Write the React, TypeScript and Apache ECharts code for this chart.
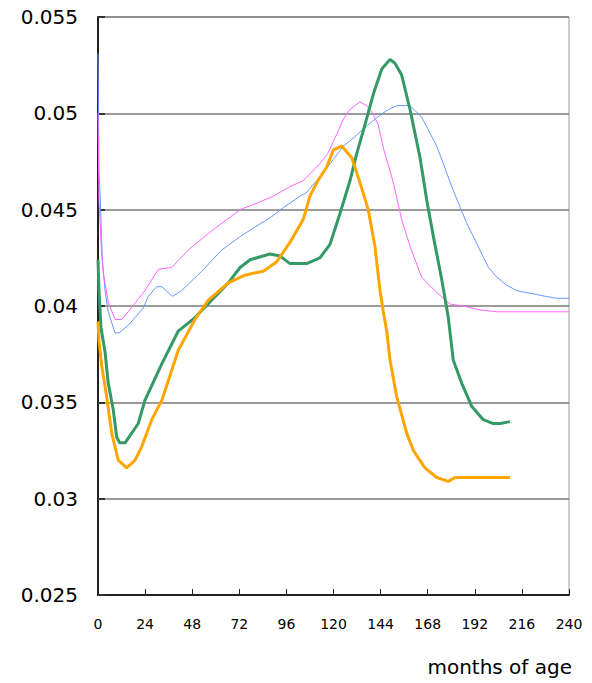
import React, { useEffect, useRef } from "react";
import * as echarts from "echarts";

const xTicks = [0, 24, 48, 72, 96, 120, 144, 168, 192, 216, 240];
const yTicks = [0.025, 0.03, 0.035, 0.04, 0.045, 0.05, 0.055];
const xAxisTitle = "months of age";

const blueMonths = [0, 0.5, 1.2, 2.2, 3.6, 5.2, 8.7, 10.7, 15.4, 23.1, 25.6, 29.9, 32.5, 37.9, 42.6, 52.8, 63, 72.4, 80, 88, 94.4, 102.9, 106.3, 113, 119.9, 125, 130, 135.2, 140, 143.7, 148, 152.2, 159, 164.9, 168, 172.6, 177, 181, 187.9, 194.6, 199, 203.2, 208, 213.3, 218, 223.5, 228, 233.7, 240];
const blueValues = [0.0531, 0.047, 0.0455, 0.0424, 0.0408, 0.0397, 0.0386, 0.0386, 0.039, 0.0399, 0.0405, 0.041, 0.041, 0.0405, 0.0408, 0.0418, 0.0429, 0.0436, 0.0441, 0.0446, 0.0451, 0.0457, 0.0459, 0.0467, 0.0476, 0.0483, 0.0487, 0.0492, 0.0496, 0.0499, 0.0502, 0.0504, 0.0504, 0.0498, 0.0492, 0.0483, 0.0471, 0.046, 0.0443, 0.0429, 0.042, 0.0415, 0.0411, 0.0408, 0.0407, 0.0406, 0.0405, 0.0404, 0.0404];

const pinkMonths = [0, 0.5, 1.8, 2.7, 5.2, 6, 8.7, 12, 15.4, 23.9, 30.7, 37.5, 45.9, 57.9, 72.4, 80, 89.3, 97.8, 104.6, 113.1, 117, 121.6, 125, 128.4, 133.5, 136.9, 140, 142.8, 145.4, 150.5, 154.7, 159, 164.9, 172.6, 179.4, 186.1, 194.6, 203.2, 240];
const pinkValues = [0.05, 0.0455, 0.0428, 0.0417, 0.0402, 0.04, 0.0393, 0.0393, 0.0397, 0.0408, 0.0419, 0.042, 0.0429, 0.0439, 0.045, 0.0453, 0.0457, 0.0462, 0.0465, 0.0474, 0.0479, 0.0489, 0.0497, 0.0502, 0.0506, 0.0504, 0.05, 0.0494, 0.0482, 0.0464, 0.0445, 0.0431, 0.0415, 0.0407, 0.0401, 0.04, 0.0398, 0.0397, 0.0397];

const greenMonths = [0, 0.5, 1.5, 3.6, 5.2, 7.8, 9.5, 11, 13.8, 20.5, 23.9, 32.5, 40.9, 49.4, 57.9, 66.4, 72.4, 77.5, 87.6, 92.7, 97.8, 106.3, 113.1, 118.2, 123.3, 128.4, 131.8, 135.2, 140.3, 144.6, 148.8, 151.3, 154.7, 159, 164.1, 167.5, 170.9, 175.1, 178.5, 181, 185.3, 190.4, 196.3, 201.4, 205, 209.9];
const greenValues = [0.0424, 0.0408, 0.0389, 0.0376, 0.036, 0.0346, 0.0332, 0.0329, 0.0329, 0.0339, 0.0351, 0.037, 0.0387, 0.0394, 0.0403, 0.0412, 0.042, 0.0424, 0.0427, 0.0426, 0.0422, 0.0422, 0.0425, 0.0432, 0.0448, 0.0465, 0.0479, 0.0491, 0.051, 0.0523, 0.0528, 0.0526, 0.052, 0.0502, 0.0477, 0.0455, 0.0436, 0.0414, 0.0394, 0.0372, 0.036, 0.0348, 0.0341, 0.0339, 0.0339, 0.034];

const orangeMonths = [0, 0.5, 1.9, 4.4, 7, 10.3, 14.6, 18.9, 22.3, 27.4, 32.5, 40.9, 49.4, 56.2, 66.4, 74.9, 79.1, 84.2, 91.1, 97.8, 104.6, 108, 112, 116.5, 119.9, 124.2, 129.3, 133.5, 137.7, 141.1, 143.7, 145.4, 147.1, 148.8, 152.2, 157.3, 160.7, 166.6, 172.6, 178.5, 181.9, 209.9];
const orangeValues = [0.0392, 0.0382, 0.0369, 0.0353, 0.0334, 0.032, 0.0316, 0.032, 0.0327, 0.0341, 0.0351, 0.0377, 0.0393, 0.0403, 0.0412, 0.0416, 0.0417, 0.0418, 0.0423, 0.0433, 0.0445, 0.0457, 0.0465, 0.0472, 0.0481, 0.0483, 0.0477, 0.0464, 0.045, 0.0431, 0.0408, 0.0397, 0.0387, 0.0372, 0.0353, 0.0334, 0.0325, 0.0316, 0.0311, 0.0309, 0.0311, 0.0311];

const zip = (xs: number[], ys: number[]) => xs.map((x, i) => [x, ys[i]]);

export default function App() {
  const ref = useRef<HTMLDivElement>(null);
  useEffect(() => {
    if (!ref.current) return;
    const chart = echarts.init(ref.current, null, { renderer: "svg" });
    const font = "'DejaVu Sans', sans-serif";
    chart.setOption({
      animation: false,
      backgroundColor: "#ffffff",
      grid: {
        left: 98,
        right: 23,
        top: 17,
        bottom: 88,
        show: true,
        borderColor: "#999999",
        borderWidth: 1,
        backgroundColor: "transparent",
      },
      xAxis: {
        type: "value",
        min: xTicks[0],
        max: xTicks[xTicks.length - 1],
        interval: 24,
        axisLine: { show: true, onZero: false, lineStyle: { color: "#222", width: 2 } },
        axisTick: { show: true, inside: true, length: 6, lineStyle: { color: "#222", width: 1 } },
        splitLine: { show: false },
        axisLabel: { color: "#000", fontSize: 14, fontFamily: font, margin: 22 },
      },
      yAxis: {
        type: "value",
        min: yTicks[0],
        max: yTicks[yTicks.length - 1],
        interval: 0.005,
        axisLine: { show: true, lineStyle: { color: "#222", width: 2 } },
        axisTick: { show: true, inside: true, length: 7, lineStyle: { color: "#333", width: 2 } },
        splitLine: { show: true, lineStyle: { color: "#7a7a7a", width: 1.6 } },
        axisLabel: {
          color: "#000",
          fontSize: 20,
          fontFamily: font,
          margin: 20,
          formatter: (v: number) => String(parseFloat(v.toFixed(4))),
        },
      },
      graphic: [
        {
          type: "text",
          right: 20,
          top: 657,
          style: { text: xAxisTitle, fill: "#000", font: `20px ${font}` },
        },
      ],
      series: [
        {
          type: "line",
          data: zip(blueMonths, blueValues),
          showSymbol: false,
          lineStyle: { color: "#6699ff", width: 1 },
          z: 2,
        },
        {
          type: "line",
          data: zip(pinkMonths, pinkValues),
          showSymbol: false,
          lineStyle: { color: "#ff66ff", width: 1 },
          z: 3,
        },
        {
          type: "line",
          data: zip(greenMonths, greenValues),
          showSymbol: false,
          lineStyle: { color: "#339966", width: 3 },
          z: 4,
        },
        {
          type: "line",
          data: zip(orangeMonths, orangeValues),
          showSymbol: false,
          lineStyle: { color: "#ffa500", width: 3 },
          z: 5,
        },
      ],
    });
    return () => chart.dispose();
  }, []);
  return (
    <div
      ref={ref}
      style={{ position: "fixed", left: 0, top: 0, width: 592, height: 683, background: "#fff" }}
    />
  );
}
